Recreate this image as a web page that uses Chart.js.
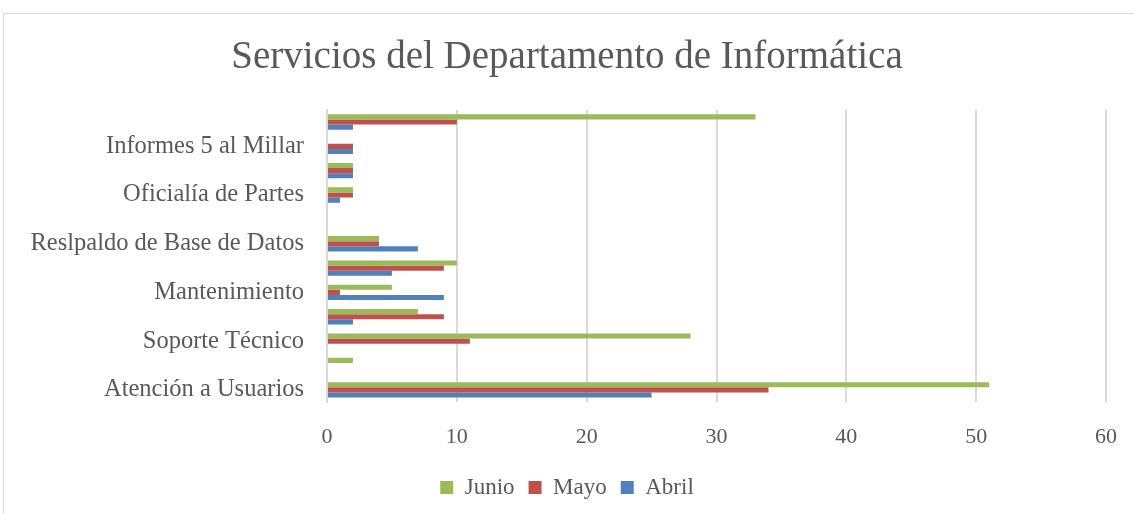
<!DOCTYPE html>
<html>
<head>
<meta charset="utf-8">
<script src="https://cdn.jsdelivr.net/npm/chart.js@4"></script>
<style>
  html, body { margin: 0; padding: 0; background: #fff; overflow: hidden; }
  #frame {
    position: absolute; left: 3px; top: 13px; width: 1200px; height: 600px;
    border-left: 1px solid #d9d9d9; border-top: 1px solid #d9d9d9;
  }
  #wrap { position: absolute; left: 25px; top: 0; width: 1134px; height: 514px; }
</style>
</head>
<body>
<div id="frame"></div>
<div id="wrap"><canvas id="chart" width="1134" height="514"></canvas></div>
<script>
// categories top to bottom, only every other one has a visible label
const categories = [
  "", "Informes 5 al Millar", "", "Oficialía de Partes", "",
  "Reslpaldo de Base de Datos", "", "Mantenimiento", "", "Soporte Técnico",
  "", "Atención a Usuarios"
];
const junio = [33, 0, 2, 2, 0, 4, 10, 5, 7, 28, 2, 51];
const mayo  = [10, 2, 2, 2, 0, 4, 9, 1, 9, 11, 0, 34];
const abril = [2, 2, 2, 1, 0, 7, 5, 9, 2, 0, 0, 25];
const xTicks = [0, 10, 20, 30, 40, 50, 60];

const textColor = "#595959";
const serif = "'Liberation Serif', 'DejaVu Serif', serif";

const ctx = document.getElementById("chart").getContext("2d");

new Chart(ctx, {
  type: "bar",
  data: {
    labels: categories,
    datasets: [
      { label: "Junio", data: junio, backgroundColor: "#9BBB59" },
      { label: "Mayo", data: mayo, backgroundColor: "#C0504D" },
      { label: "Abril", data: abril, backgroundColor: "#4F81BD" }
    ]
  },
  options: {
    indexAxis: "y",
    responsive: false,
    animation: false,
    datasets: {
      bar: { barPercentage: 1, categoryPercentage: 0.63 }
    },
    layout: { padding: { left: 3, right: 53, top: 14, bottom: 5 } },
    plugins: {
      title: {
        display: true,
        text: "Servicios del Departamento de Informática",
        color: textColor,
        font: { family: serif, size: 39, weight: "normal" },
        padding: { top: 20, bottom: 29 }
      },
      legend: {
        position: "bottom",
        labels: {
          color: textColor,
          font: { family: serif, size: 23 },
          boxWidth: 13,
          boxHeight: 13,
          padding: 14
        }
      },
      tooltip: { enabled: false }
    },
    scales: {
      x: {
        min: 0,
        max: 60,
        afterBuildTicks: axis => { axis.ticks = xTicks.map(v => ({ value: v })); },
        grid: { color: "#d9d9d9", lineWidth: 2, drawTicks: false },
        border: { display: false },
        ticks: {
          color: textColor,
          font: { family: serif, size: 22 },
          padding: 22
        },
        afterFit: axis => { axis.height = 60; }
      },
      y: {
        grid: { display: false },
        border: { color: "#d9d9d9", width: 2 },
        ticks: {
          autoSkip: false,
          color: textColor,
          font: { family: serif, size: 24.5 },
          padding: 15
        },
        afterFit: axis => { axis.width = 299; }
      }
    }
  }
});
</script>
</body>
</html>
